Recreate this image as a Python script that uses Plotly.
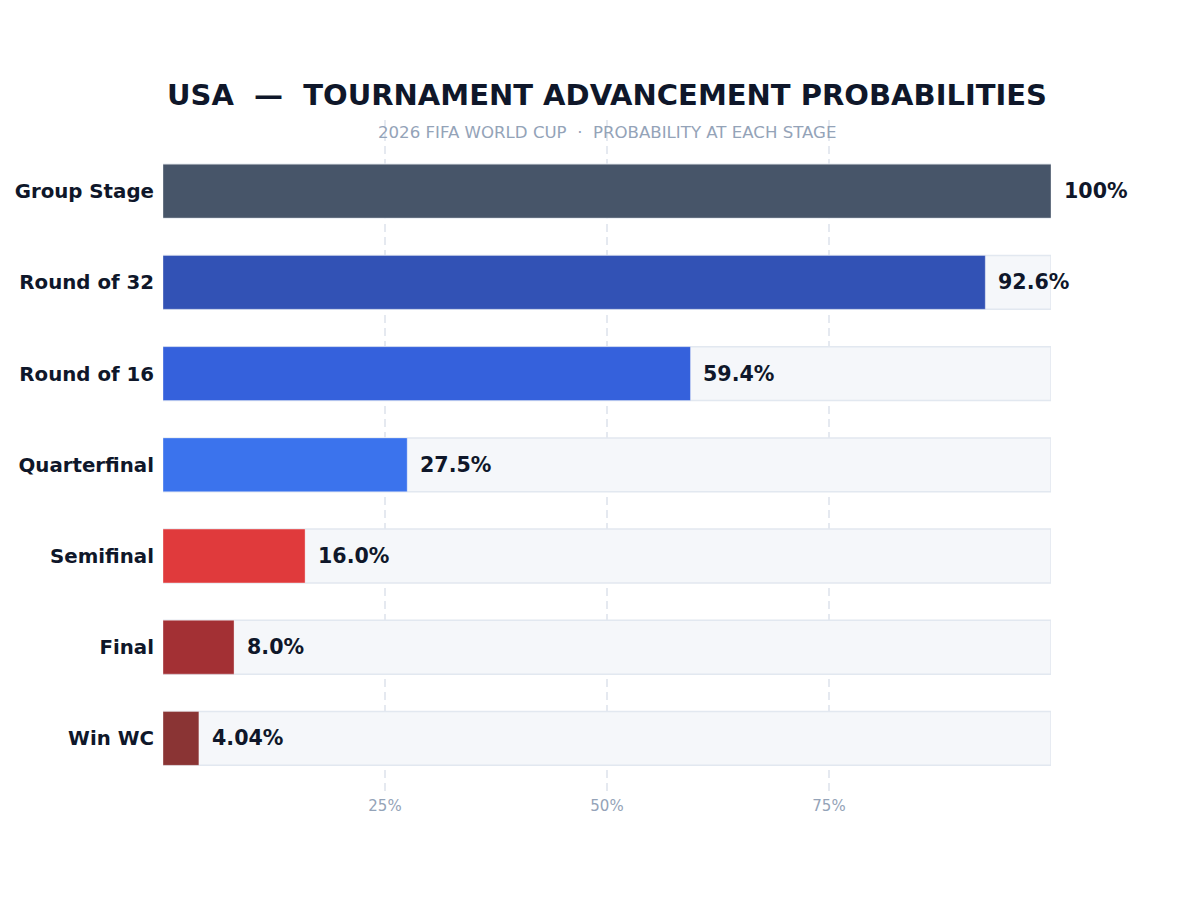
import plotly.graph_objects as go

stages = ["Group Stage", "Round of 32", "Round of 16", "Quarterfinal", "Semifinal", "Final", "Win WC"]
probs = [100, 92.6, 59.4, 27.5, 16.0, 8.0, 4.04]
labels = ["100%", "92.6%", "59.4%", "27.5%", "16.0%", "8.0%", "4.04%"]
colors = ["#475569", "#3252b5", "#3561dc", "#3b73ed", "#e03a3c", "#a33034", "#8a3434"]
track = [100] * len(stages)
xticks = [25, 50, 75]
xticklabels = ["25%", "50%", "75%"]

FONT = "DejaVu Sans"

fig = go.Figure()
fig.add_trace(go.Bar(
    y=stages, x=track, orientation="h", width=0.59,
    marker=dict(color="#f5f7fa", line=dict(color="#e2e8f0", width=1.5)),
    hoverinfo="skip", showlegend=False,
))
fig.add_trace(go.Bar(
    y=stages, x=probs, orientation="h", width=0.59,
    marker=dict(color=colors, line=dict(color="rgba(255,255,255,0.35)", width=1)),
    showlegend=False,
))

for s, v, t in zip(stages, probs, labels):
    fig.add_annotation(
        x=v, y=s, xref="x", yref="y", text=f"<b>{t}</b>", showarrow=False,
        xanchor="left", yanchor="middle", xshift=11,
        font=dict(family=FONT, size=20.6, color="#0f172a"),
    )

fig.add_annotation(
    x=0.5, y=0.982, xref="paper", yref="paper",
    text="2026 FIFA WORLD CUP  ·  PROBABILITY AT EACH STAGE",
    showarrow=False, xanchor="center", yanchor="middle",
    font=dict(family=FONT, size=16.6, color="#94a3b8"),
)

fig.update_layout(
    width=1200, height=900,
    paper_bgcolor="white", plot_bgcolor="white",
    barmode="overlay",
    margin=dict(l=163, r=149, t=120, b=105),
    title=dict(
        text="<b>USA  —  TOURNAMENT ADVANCEMENT PROBABILITIES</b>",
        x=0.5, xanchor="center", xref="paper",
        y=1 - 95 / 900, yanchor="middle", yref="container",
        font=dict(family=FONT, size=29, color="#0f172a"),
    ),
    xaxis=dict(
        range=[0, 100], tickvals=xticks, ticktext=xticklabels,
        showgrid=True, gridcolor="#e5e9f0", griddash="8px,5px", gridwidth=1.5,
        zeroline=False, showline=False, ticks="",
        tickfont=dict(family=FONT, size=15, color="#94a3b8"),
    ),
    yaxis=dict(
        range=[6.62, -0.78], showgrid=False, zeroline=False, showline=False,
        ticks="", ticklabelstandoff=8,
        tickfont=dict(family=FONT, size=19.8, color="#0f172a", weight="bold"),
    ),
)

fig.write_html("out.html")
